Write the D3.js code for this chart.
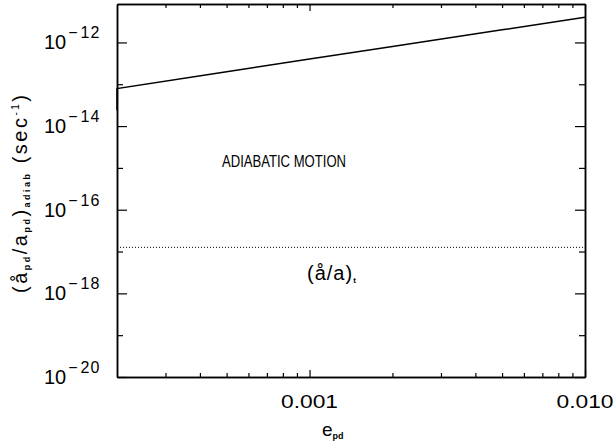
<!DOCTYPE html>
<html>
<head>
<meta charset="utf-8">
<script src="https://cdn.jsdelivr.net/npm/d3@7"></script>
<style>
  body { margin: 0; background: #fff; }
  svg { display: block; }
  text { font-family: "Liberation Sans", Arial, sans-serif; fill: #000; }
  .axis path, .axis line { stroke: #000; }
</style>
</head>
<body>
<svg width="616" height="448"></svg>
<script>
// eccentricity of the planet-disc orbit
var ecc = [0.0002, 0.0002, 0.0005, 0.001, 0.002, 0.005, 0.01];
// adiabatic decay rate (sec^-1)
var rateAdiab = [2.4e-14, 7.9e-14, 2.0e-13, 4.0e-13, 8.0e-13, 2.0e-12, 4.0e-12];
// tidal rate, horizontal dotted level
var rateTide = 1.26e-17;

var xMajor = [0.001, 0.01];
var xMajorLabels = ["0.001", "0.010"];
var xMinor = [0.0003, 0.0004, 0.0005, 0.0006, 0.0007, 0.0008, 0.0009,
              0.002, 0.003, 0.004, 0.005, 0.006, 0.007, 0.008, 0.009];
var yMajorExp = [-20, -18, -16, -14, -12];
var yMinorExp = [-19, -17, -15, -13];

var svgWidth = 616, svgHeight = 448;
var margin = { top: 4, right: 31, bottom: 71, left: 117 },
	width = svgWidth - margin.left - margin.right,
	height = svgHeight - margin.top - margin.bottom;

var xScale = d3.scaleLog()
	.domain([0.0002, 0.01])
	.range([0, width]);

var yScale = d3.scaleLog()
	.domain([1e-20, 8.3e-12])
	.range([height, 0]);

var svg = d3.select("svg")
	.append("g").attr("transform", "translate(" + margin.left + "," + margin.top + ")");

function styleAxis(g) {
	g.selectAll("path").attr("stroke-width", 1.5);
	g.selectAll("line").attr("stroke-width", 1.2);
	g.selectAll("text").remove();
}

function pow10(e) { return Math.pow(10, e); }

// minor ticks (all four sides)
svg.append("g").attr("class", "axis").attr("transform", "translate(0," + height + ")")
	.call(d3.axisTop(xScale).tickValues(xMinor).tickSize(4).tickSizeOuter(0)).call(styleAxis);
svg.append("g").attr("class", "axis")
	.call(d3.axisBottom(xScale).tickValues(xMinor).tickSize(4).tickSizeOuter(0)).call(styleAxis);
svg.append("g").attr("class", "axis")
	.call(d3.axisRight(yScale).tickValues(yMinorExp.map(pow10)).tickSize(6).tickSizeOuter(0)).call(styleAxis);
svg.append("g").attr("class", "axis").attr("transform", "translate(" + width + ",0)")
	.call(d3.axisLeft(yScale).tickValues(yMinorExp.map(pow10)).tickSize(6).tickSizeOuter(0)).call(styleAxis);

// major ticks
svg.append("g").attr("class", "axis").attr("transform", "translate(0," + height + ")")
	.call(d3.axisTop(xScale).tickValues(xMajor).tickSize(7).tickSizeOuter(0)).call(styleAxis);
svg.append("g").attr("class", "axis")
	.call(d3.axisBottom(xScale).tickValues(xMajor).tickSize(7).tickSizeOuter(0)).call(styleAxis);
svg.append("g").attr("class", "axis")
	.call(d3.axisRight(yScale).tickValues(yMajorExp.map(pow10)).tickSize(10).tickSizeOuter(0)).call(styleAxis);
svg.append("g").attr("class", "axis").attr("transform", "translate(" + width + ",0)")
	.call(d3.axisLeft(yScale).tickValues(yMajorExp.map(pow10)).tickSize(10).tickSizeOuter(0)).call(styleAxis);

// x tick labels
svg.selectAll(".xlab")
	.data(xMajor)
	.enter().append("text")
		.attr("class", "xlab")
		.attr("x", function(d) { return xScale(d); })
		.attr("y", height + 31)
		.attr("text-anchor", "middle")
		.attr("font-size", 18)
		.attr("textLength", 57)
		.attr("lengthAdjust", "spacingAndGlyphs")
		.text(function(d, i) { return xMajorLabels[i]; });

// y tick labels 10^n
var ylab = svg.selectAll(".ylab")
	.data(yMajorExp)
	.enter().append("text")
		.attr("class", "ylab")
		.attr("x", -73)
		.attr("y", function(d) { return yScale(pow10(d)) + 7; })
		.attr("font-size", 20);
ylab.append("tspan").text("10");
ylab.append("tspan").attr("font-size", 16).attr("dx", 2).attr("dy", -11).text("\u2212");
ylab.append("tspan").attr("font-size", 16).attr("dx", 3).attr("letter-spacing", 1)
	.text(function(d) { return Math.abs(d); });

// curve
var line = d3.line()
	.x(function(d) { return xScale(d[0]); })
	.y(function(d) { return yScale(d[1]); });

svg.append("path")
	.datum(ecc.map(function(e, i) { return [e, rateAdiab[i]]; }))
	.attr("fill", "none")
	.attr("stroke", "#000")
	.attr("stroke-width", 1.5)
	.attr("d", line);

// tidal level (dotted)
svg.append("line")
	.attr("x1", 0)
	.attr("x2", width)
	.attr("y1", yScale(rateTide))
	.attr("y2", yScale(rateTide))
	.attr("stroke", "#000")
	.attr("stroke-width", 1)
	.attr("stroke-dasharray", "1,2");

// annotations
svg.append("text")
	.attr("x", 105)
	.attr("y", 163)
	.attr("font-size", 17)
	.attr("textLength", 124)
	.attr("lengthAdjust", "spacingAndGlyphs")
	.text("ADIABATIC  MOTION");

var tl = svg.append("text")
	.attr("x", 190)
	.attr("y", 276)
	.attr("font-size", 20)
	.attr("letter-spacing", 1);
tl.append("tspan").text("(å/a)");
tl.append("tspan").attr("font-size", 8).attr("font-weight", "bold").attr("dy", 3).text("t");

// axis titles
var xt = svg.append("text")
	.attr("x", 205)
	.attr("y", height + 59)
	.attr("font-size", 19);
xt.append("tspan").text("e");
xt.append("tspan").attr("font-size", 9).attr("font-weight", "bold").attr("dy", 3).text("pd");

var yt = svg.append("text")
	.attr("transform", "translate(" + (-90) + "," + 190 + ") rotate(-90)")
	.attr("text-anchor", "middle")
	.attr("font-size", 20)
	.attr("textLength", 198)
	.attr("lengthAdjust", "spacing");
yt.append("tspan").text("(å");
yt.append("tspan").attr("font-size", 9).attr("font-weight", "bold").attr("dy", 3).text("pd");
yt.append("tspan").attr("dy", -3).text("/a");
yt.append("tspan").attr("font-size", 9).attr("font-weight", "bold").attr("dy", 3).text("pd");
yt.append("tspan").attr("dy", -3).text(")");
yt.append("tspan").attr("font-size", 9).attr("font-weight", "bold").attr("dy", 3).text("adiab");
yt.append("tspan").attr("dy", -3).text(" (sec");
yt.append("tspan").attr("font-size", 10).attr("dy", -8).text("-1");
yt.append("tspan").attr("dy", 8).text(")");
</script>
</body>
</html>
